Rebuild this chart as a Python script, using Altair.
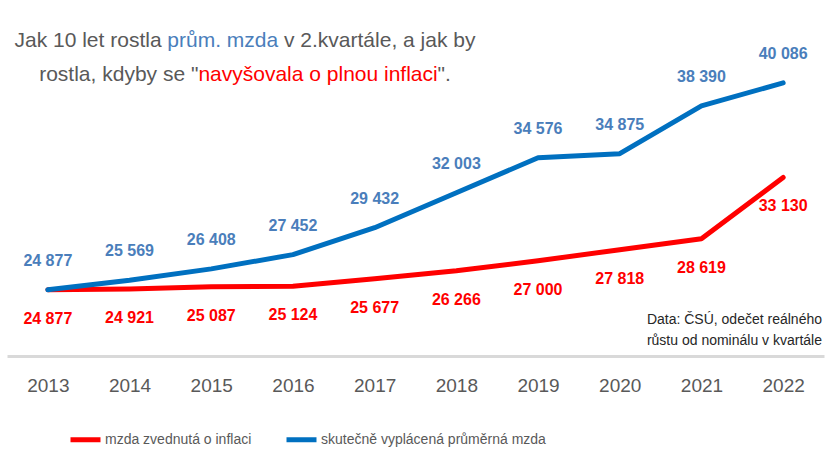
import altair as alt
import pandas as pd

years = ["2013", "2014", "2015", "2016", "2017", "2018", "2019", "2020", "2021", "2022"]
actual_wage = [24877, 25569, 26408, 27452, 29432, 32003, 34576, 34875, 38390, 40086]
inflation_wage = [24877, 24921, 25087, 25124, 25677, 26266, 27000, 27818, 28619, 33130]

series_infl = "mzda zvednutá o inflaci"
series_actual = "skutečně vyplácená průměrná mzda"

RED = "#FF0000"
BLUE = "#0070C0"
LABEL_BLUE = "#4A7EBB"
GRAY = "#595959"
FONT = "Liberation Sans, Arial, sans-serif"


def fmt(v):
    return f"{v:,}".replace(",", " ")


rows = []
for y, a, i in zip(years, actual_wage, inflation_wage):
    rows.append({"year": y, "value": i, "series": series_infl, "label": fmt(i)})
    rows.append({"year": y, "value": a, "series": series_actual, "label": fmt(a)})
df = pd.DataFrame(rows)

x_enc = alt.X(
    "year:O",
    scale=alt.Scale(type="point", padding=0.5),
    axis=alt.Axis(
        title=None, labelAngle=0, ticks=False, grid=False,
        domainColor="#D9D9D9", domainWidth=3,
        labelFont=FONT, labelFontSize=19, labelColor=GRAY, labelPadding=20,
    ),
)
y_enc = alt.Y("value:Q", scale=alt.Scale(domain=[20000, 45000]), axis=None)

base = alt.Chart(df)

lines = base.mark_line(strokeWidth=5, strokeCap="round", strokeJoin="round").encode(
    x=x_enc,
    y=y_enc,
    color=alt.Color(
        "series:N",
        scale=alt.Scale(domain=[series_infl, series_actual], range=[RED, BLUE]),
        legend=alt.Legend(
            title=None, orient="none", legendX=61, legendY=406, direction="horizontal",
            symbolType="stroke", symbolStrokeWidth=5, symbolSize=900,
            labelFont=FONT, labelFontSize=14, labelColor=GRAY, labelLimit=400,
            labelOffset=2, columnPadding=24,
        ),
    ),
)

labels_actual = base.transform_filter(alt.datum.series == series_actual).mark_text(
    dy=-29, font=FONT, fontSize=16, fontWeight="bold", color=LABEL_BLUE, baseline="middle"
).encode(x=x_enc, y=y_enc, text="label:N")

labels_infl = base.transform_filter(alt.datum.series == series_infl).mark_text(
    dy=29, font=FONT, fontSize=16, fontWeight="bold", color=RED, baseline="middle"
).encode(x=x_enc, y=y_enc, text="label:N")


def seg(text, x, y, color):
    return alt.Chart(pd.DataFrame({"t": [text]})).mark_text(
        font=FONT, fontSize=21, color=color, align="left", baseline="alphabetic",
    ).encode(x=alt.value(x), y=alt.value(y), text="t:N")


# two-line title, coloured piece by piece
title_parts = [
    seg("Jak 10 let rostla", 7.5, 31, GRAY),
    seg("prům. mzda", 160.3, 31, LABEL_BLUE),
    seg("v 2.kvartále, a jak by", 277, 31, GRAY),
    seg("rostla, kdyby se \"", 32.2, 65, GRAY),
    seg("navyšovala o plnou inflaci", 191.4, 65, RED),
    seg("\".", 430.6, 65, GRAY),
]

note = alt.Chart(pd.DataFrame({"t": ["Data: ČSÚ, odečet reálného\nrůstu od nominálu v kvartále"]})).mark_text(
    font=FONT, fontSize=14, color="#262626", align="right", baseline="middle",
    lineBreak="\n", lineHeight=21,
).encode(x=alt.value(815), y=alt.value(304), text="t:N")

chart = alt.layer(lines, labels_actual, labels_infl, note, *title_parts).properties(
    width=817, height=340,
    autosize=alt.AutoSizeParams(type="none"),
    padding={"left": 7, "top": 16, "right": 11, "bottom": 110},
    background="white",
).configure_view(stroke=None)

chart.save("out.html", embed_options={"renderer": "svg", "actions": False})
